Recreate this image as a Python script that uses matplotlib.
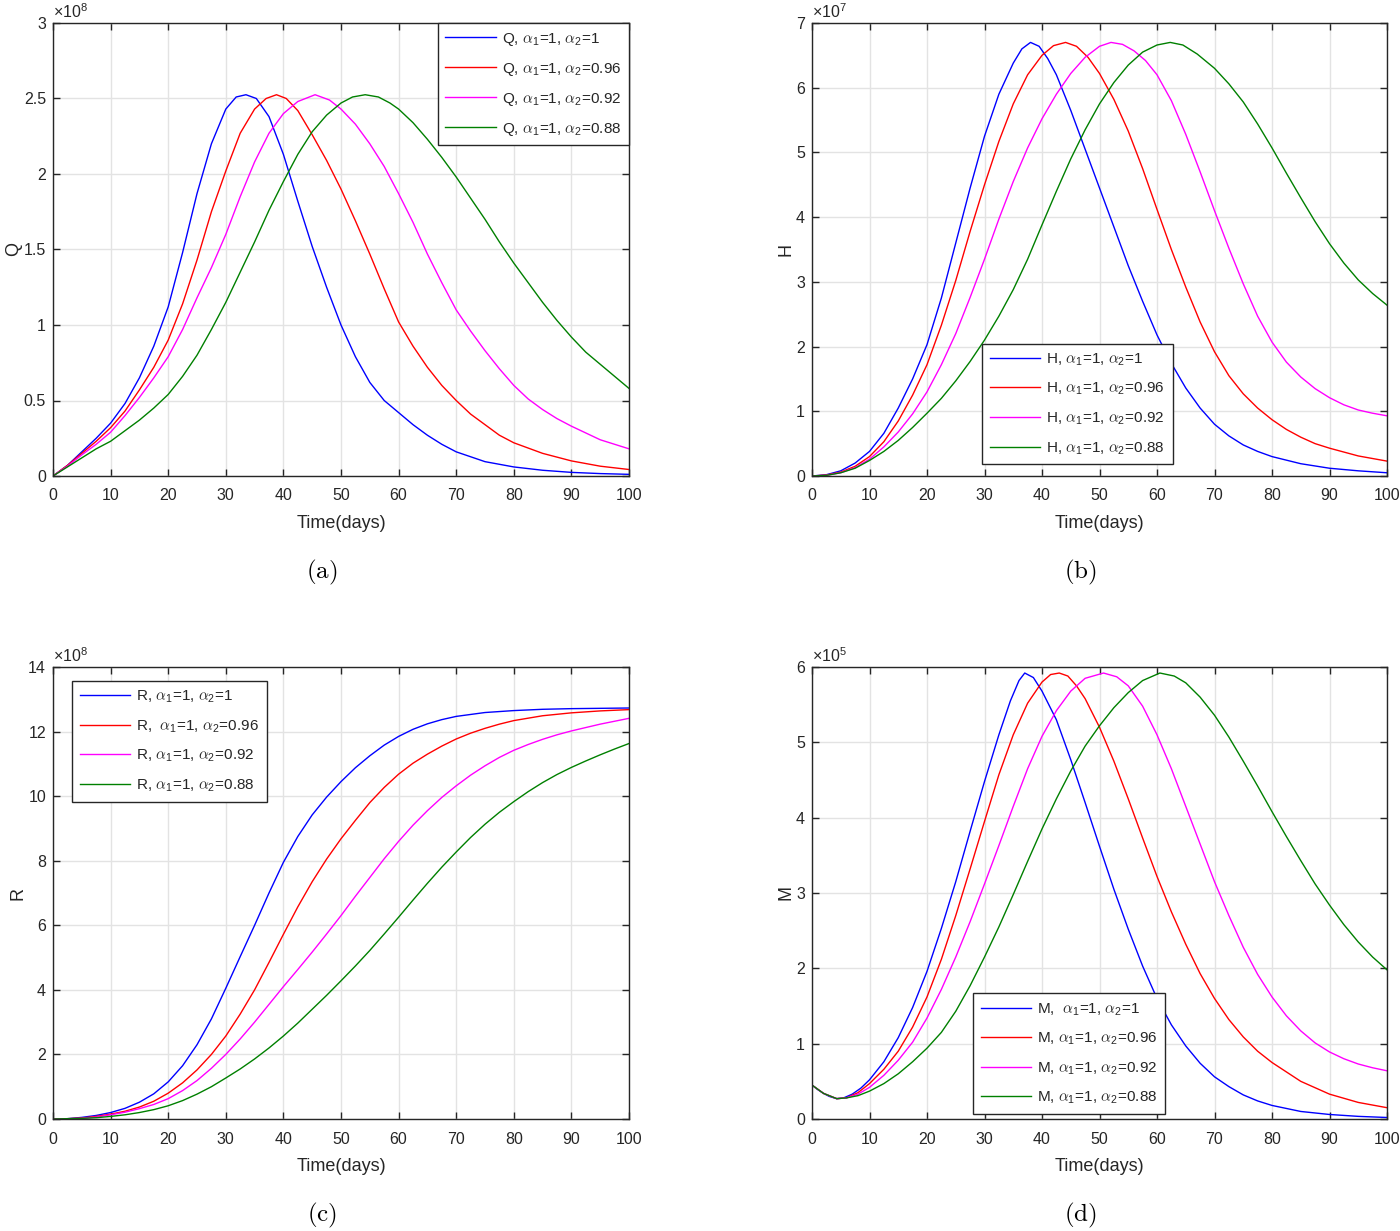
import numpy as np
import matplotlib
matplotlib.use('Agg')
import matplotlib.pyplot as plt
from matplotlib.ticker import FuncFormatter

plt.rcParams['font.family'] = ['Liberation Sans', 'DejaVu Sans']
plt.rcParams['mathtext.fontset'] = 'cm'

# ---------------- data: (day, value) ----------------
# (a) Q, x1e8
q_1 = [(0, 0), (2.5, 0.07), (5, 0.16), (7.5, 0.25), (10, 0.35), (12.5, 0.48), (15, 0.65), (17.5, 0.86),
       (20, 1.12), (22.5, 1.48), (25, 1.87), (27.5, 2.2), (30, 2.43), (31.8, 2.51), (33.5, 2.525),
       (35.3, 2.5), (37.5, 2.38), (40, 2.13), (42.5, 1.82), (45, 1.52), (47.5, 1.25), (50, 1.0),
       (52.5, 0.79), (55, 0.62), (57.5, 0.5), (60, 0.42), (62.5, 0.34), (65, 0.27), (67.5, 0.21),
       (70, 0.16), (75, 0.095), (80, 0.06), (85, 0.038), (90, 0.024), (95, 0.016), (100, 0.011)]
q_2 = [(0, 0), (2.5, 0.07), (5, 0.15), (7.5, 0.23), (10, 0.32), (12.5, 0.43), (15, 0.57), (17.5, 0.72),
       (20, 0.9), (22.5, 1.14), (25, 1.43), (27.5, 1.75), (30, 2.02), (32.5, 2.27), (35, 2.43),
       (37, 2.5), (38.8, 2.525), (40.5, 2.5), (42.5, 2.42), (45, 2.26), (47.5, 2.09), (50, 1.9),
       (52.5, 1.69), (55, 1.47), (57.5, 1.24), (60, 1.02), (62.5, 0.86), (65, 0.72), (67.5, 0.6),
       (70, 0.5), (72.5, 0.41), (75, 0.34), (77.5, 0.27), (80, 0.22), (85, 0.15), (90, 0.1),
       (95, 0.065), (100, 0.043)]
q_3 = [(0, 0), (2.5, 0.065), (5, 0.14), (7.5, 0.21), (10, 0.29), (12.5, 0.4), (15, 0.52), (17.5, 0.65),
       (20, 0.79), (22.5, 0.97), (25, 1.18), (27.5, 1.38), (30, 1.6), (32.5, 1.85), (35, 2.08),
       (37.5, 2.27), (40, 2.4), (42.5, 2.48), (45.5, 2.525), (48, 2.49), (50, 2.43), (52.5, 2.33),
       (55, 2.2), (57.5, 2.05), (60, 1.87), (62.5, 1.68), (65, 1.47), (67.5, 1.28), (70, 1.1),
       (72.5, 0.96), (75, 0.83), (77.5, 0.71), (80, 0.6), (82.5, 0.51), (85, 0.44), (87.5, 0.38),
       (90, 0.33), (95, 0.24), (100, 0.18)]
q_4 = [(0, 0), (2.5, 0.06), (5, 0.12), (7.5, 0.18), (10, 0.23), (12.5, 0.3), (15, 0.37), (17.5, 0.45),
       (20, 0.54), (22.5, 0.66), (25, 0.8), (27.5, 0.97), (30, 1.15), (32.5, 1.35), (35, 1.55),
       (37.5, 1.76), (40, 1.95), (42.5, 2.13), (45, 2.28), (47.5, 2.39), (50, 2.47), (52, 2.51),
       (54.2, 2.525), (56.5, 2.51), (58.5, 2.47), (60, 2.43), (62.5, 2.34), (65, 2.23), (67.5, 2.11),
       (70, 1.98), (72.5, 1.84), (75, 1.7), (77.5, 1.55), (80, 1.41), (82.5, 1.28), (85, 1.15),
       (87.5, 1.03), (90, 0.92), (92.5, 0.82), (95, 0.74), (97.5, 0.66), (100, 0.58)]

# (b) H, x1e7
h_1 = [(0, 0), (2.5, 0.02), (5, 0.08), (7.5, 0.2), (10, 0.38), (12.5, 0.66), (15, 1.05), (17.5, 1.5),
       (20, 2.03), (22.5, 2.75), (25, 3.6), (27.5, 4.45), (30, 5.25), (32.5, 5.9), (35, 6.38),
       (36.5, 6.6), (38, 6.7), (39.5, 6.64), (41, 6.45), (42.5, 6.2), (45, 5.65), (47.5, 5.05),
       (50, 4.45), (52.5, 3.85), (55, 3.25), (57.5, 2.7), (60, 2.18), (62.5, 1.74), (65, 1.36),
       (67.5, 1.05), (70, 0.8), (72.5, 0.62), (75, 0.48), (77.5, 0.38), (80, 0.3), (85, 0.19),
       (90, 0.12), (95, 0.08), (100, 0.05)]
h_2 = [(0, 0), (2.5, 0.015), (5, 0.06), (7.5, 0.15), (10, 0.3), (12.5, 0.53), (15, 0.85), (17.5, 1.25),
       (20, 1.72), (22.5, 2.33), (25, 3.02), (27.5, 3.78), (30, 4.5), (32.5, 5.17), (35, 5.75),
       (37.5, 6.2), (40, 6.5), (42, 6.65), (44.1, 6.7), (46, 6.64), (48, 6.47), (50, 6.22),
       (52.5, 5.82), (55, 5.33), (57.5, 4.75), (60, 4.12), (62.5, 3.5), (65, 2.92), (67.5, 2.38),
       (70, 1.92), (72.5, 1.55), (75, 1.27), (77.5, 1.05), (80, 0.87), (82.5, 0.72), (85, 0.6),
       (87.5, 0.5), (90, 0.43), (95, 0.31), (100, 0.23)]
h_3 = [(0, 0), (2.5, 0.01), (5, 0.05), (7.5, 0.13), (10, 0.26), (12.5, 0.45), (15, 0.68), (17.5, 0.96),
       (20, 1.3), (22.5, 1.72), (25, 2.2), (27.5, 2.76), (30, 3.35), (32.5, 3.97), (35, 4.55),
       (37.5, 5.07), (40, 5.52), (42.5, 5.9), (45, 6.22), (47.5, 6.47), (50, 6.64), (52, 6.7),
       (54, 6.67), (56, 6.57), (58, 6.42), (60, 6.2), (62.5, 5.8), (65, 5.28), (67.5, 4.7),
       (70, 4.1), (72.5, 3.52), (75, 2.97), (77.5, 2.47), (80, 2.07), (82.5, 1.76), (85, 1.53),
       (87.5, 1.35), (90, 1.21), (92.5, 1.1), (95, 1.02), (97.5, 0.97), (100, 0.93)]
h_4 = [(0, 0), (2.5, 0.01), (5, 0.05), (7.5, 0.12), (10, 0.24), (12.5, 0.38), (15, 0.55), (17.5, 0.75),
       (20, 0.97), (22.5, 1.2), (25, 1.47), (27.5, 1.77), (30, 2.1), (32.5, 2.47), (35, 2.88),
       (37.5, 3.35), (40, 3.88), (42.5, 4.4), (45, 4.9), (47.5, 5.35), (50, 5.75), (52.5, 6.08),
       (55, 6.35), (57.5, 6.55), (60, 6.66), (62.3, 6.7), (64.5, 6.66), (67, 6.52), (70, 6.3),
       (72.5, 6.06), (75, 5.78), (77.5, 5.44), (80, 5.07), (82.5, 4.68), (85, 4.3), (87.5, 3.93),
       (90, 3.59), (92.5, 3.29), (95, 3.03), (97.5, 2.82), (100, 2.64)]

# (c) R, x1e8
r_1 = [(0, 0), (2.5, 0.01), (5, 0.05), (7.5, 0.11), (10, 0.2), (12.5, 0.33), (15, 0.52), (17.5, 0.78),
       (20, 1.15), (22.5, 1.65), (25, 2.3), (27.5, 3.1), (30, 4.05), (32.5, 5.03), (35, 6.0),
       (37.5, 7.0), (40, 7.95), (42.5, 8.75), (45, 9.42), (47.5, 9.97), (50, 10.45), (52.5, 10.88),
       (55, 11.25), (57.5, 11.58), (60, 11.85), (62.5, 12.07), (65, 12.24), (67.5, 12.37),
       (70, 12.47), (75, 12.59), (80, 12.65), (85, 12.69), (90, 12.71), (95, 12.72), (100, 12.73)]
r_2 = [(0, 0), (2.5, 0.01), (5, 0.03), (7.5, 0.08), (10, 0.15), (12.5, 0.24), (15, 0.37), (17.5, 0.55),
       (20, 0.8), (22.5, 1.12), (25, 1.52), (27.5, 2.0), (30, 2.57), (32.5, 3.25), (35, 4.0),
       (37.5, 4.85), (40, 5.72), (42.5, 6.57), (45, 7.35), (47.5, 8.05), (50, 8.68), (52.5, 9.25),
       (55, 9.8), (57.5, 10.27), (60, 10.68), (62.5, 11.02), (65, 11.3), (67.5, 11.55), (70, 11.77),
       (72.5, 11.95), (75, 12.1), (77.5, 12.23), (80, 12.34), (85, 12.49), (90, 12.58), (95, 12.64),
       (100, 12.68)]
r_3 = [(0, 0), (2.5, 0.005), (5, 0.02), (7.5, 0.06), (10, 0.13), (12.5, 0.21), (15, 0.32), (17.5, 0.45),
       (20, 0.63), (22.5, 0.88), (25, 1.19), (27.5, 1.57), (30, 2.0), (32.5, 2.48), (35, 3.0),
       (37.5, 3.55), (40, 4.1), (42.5, 4.63), (45, 5.17), (47.5, 5.73), (50, 6.3), (52.5, 6.9),
       (55, 7.48), (57.5, 8.06), (60, 8.6), (62.5, 9.1), (65, 9.55), (67.5, 9.96), (70, 10.32),
       (72.5, 10.65), (75, 10.94), (77.5, 11.2), (80, 11.42), (82.5, 11.6), (85, 11.76), (87.5, 11.9),
       (90, 12.02), (95, 12.23), (100, 12.41)]
r_4 = [(0, 0), (5, 0.02), (7.5, 0.04), (10, 0.08), (12.5, 0.13), (15, 0.2), (17.5, 0.29), (20, 0.41),
       (22.5, 0.57), (25, 0.77), (27.5, 1.0), (30, 1.27), (32.5, 1.55), (35, 1.86), (37.5, 2.2),
       (40, 2.57), (42.5, 2.97), (45, 3.4), (47.5, 3.83), (50, 4.28), (52.5, 4.74), (55, 5.22),
       (57.5, 5.73), (60, 6.25), (62.5, 6.78), (65, 7.3), (67.5, 7.8), (70, 8.27), (72.5, 8.72),
       (75, 9.13), (77.5, 9.5), (80, 9.83), (82.5, 10.14), (85, 10.42), (87.5, 10.67), (90, 10.89),
       (92.5, 11.09), (95, 11.28), (97.5, 11.46), (100, 11.63)]

# (d) M, x1e5
m_1 = [(0, 0.45), (1, 0.39), (2, 0.34), (3, 0.3), (4.3, 0.27), (5.5, 0.28), (7, 0.33), (8.5, 0.41),
       (10, 0.52), (12.5, 0.76), (15, 1.08), (17.5, 1.48), (20, 1.96), (22.5, 2.53), (25, 3.15),
       (27.5, 3.82), (30, 4.48), (32.5, 5.1), (34.5, 5.55), (36, 5.82), (37, 5.92), (38.5, 5.86),
       (40, 5.68), (42.5, 5.3), (45, 4.77), (47.5, 4.2), (50, 3.62), (52.5, 3.05), (55, 2.52),
       (57.5, 2.03), (60, 1.6), (62.5, 1.25), (65, 0.97), (67.5, 0.74), (70, 0.56), (72.5, 0.43),
       (75, 0.32), (77.5, 0.24), (80, 0.18), (85, 0.1), (90, 0.06), (95, 0.035), (100, 0.02)]
m_2 = [(0, 0.45), (2, 0.34), (4.3, 0.27), (6, 0.28), (8, 0.35), (10, 0.47), (12.5, 0.66), (15, 0.9),
       (17.5, 1.22), (20, 1.62), (22.5, 2.12), (25, 2.7), (27.5, 3.32), (30, 3.95), (32.5, 4.57),
       (35, 5.1), (37.5, 5.52), (40, 5.8), (41.5, 5.9), (43, 5.92), (44.5, 5.88), (46, 5.75),
       (47.5, 5.58), (50, 5.2), (52.5, 4.75), (55, 4.25), (57.5, 3.73), (60, 3.22), (62.5, 2.75),
       (65, 2.32), (67.5, 1.93), (70, 1.6), (72.5, 1.32), (75, 1.09), (77.5, 0.9), (80, 0.75),
       (85, 0.5), (90, 0.33), (95, 0.22), (100, 0.15)]
m_3 = [(0, 0.45), (2, 0.34), (4.3, 0.27), (6, 0.28), (8, 0.33), (10, 0.42), (12.5, 0.58), (15, 0.78),
       (17.5, 1.02), (20, 1.34), (22.5, 1.72), (25, 2.15), (27.5, 2.62), (30, 3.12), (32.5, 3.63),
       (35, 4.15), (37.5, 4.65), (40, 5.08), (42.5, 5.42), (45, 5.68), (47.5, 5.85), (50.7, 5.92),
       (53, 5.87), (55, 5.75), (57.5, 5.48), (60, 5.1), (62.5, 4.65), (65, 4.15), (67.5, 3.65),
       (70, 3.15), (72.5, 2.7), (75, 2.28), (77.5, 1.92), (80, 1.62), (82.5, 1.37), (85, 1.17),
       (87.5, 1.01), (90, 0.89), (92.5, 0.8), (95, 0.73), (97.5, 0.68), (100, 0.64)]
m_4 = [(0, 0.45), (2, 0.34), (4.3, 0.27), (6, 0.28), (8, 0.31), (10, 0.37), (12.5, 0.47), (15, 0.6),
       (17.5, 0.76), (20, 0.94), (22.5, 1.15), (25, 1.43), (27.5, 1.77), (30, 2.15), (32.5, 2.55),
       (35, 2.98), (37.5, 3.42), (40, 3.85), (42.5, 4.25), (45, 4.62), (47.5, 4.95), (50, 5.22),
       (52.5, 5.46), (55, 5.66), (57.5, 5.82), (60.5, 5.92), (63, 5.88), (65, 5.79), (67.5, 5.6),
       (70, 5.36), (72.5, 5.07), (75, 4.75), (77.5, 4.42), (80, 4.08), (82.5, 3.75), (85, 3.43),
       (87.5, 3.12), (90, 2.84), (92.5, 2.58), (95, 2.35), (97.5, 2.15), (100, 1.98)]

alpha2 = ['1', '0.96', '0.92', '0.88']
colors = ['#0000ff', '#ff0000', '#ff00ff', '#008000']

panels = [
    dict(name='Q', exp='8', ymax=3, ystep=0.5, series=[q_1, q_2, q_3, q_4],
         pref=['Q, ', 'Q, ', 'Q, ', 'Q, '],
         rect=[53, 23, 629, 476], leg=('upper right', (1.0, 1.0)), tag='(a)'),
    dict(name='H', exp='7', ymax=7, ystep=1, series=[h_1, h_2, h_3, h_4],
         pref=['H, ', 'H, ', 'H, ', 'H, '],
         rect=[812, 23, 1387, 476], leg=('lower left', (0.296, 0.026)), tag='(b)'),
    dict(name='R', exp='8', ymax=14, ystep=2, series=[r_1, r_2, r_3, r_4],
         pref=['R, ', 'R,  ', 'R, ', 'R, '],
         rect=[53, 667, 629, 1119], leg=('upper left', (0.033, 0.969)), tag='(c)'),
    dict(name='M', exp='5', ymax=6, ystep=1, series=[m_1, m_2, m_3, m_4],
         pref=['M,  ', 'M, ', 'M, ', 'M, '],
         rect=[812, 667, 1387, 1119], leg=('lower left', (0.28, 0.011)), tag='(d)'),
]

W, H = 1400, 1231
fig = plt.figure(figsize=(W / 100, H / 100), dpi=100)

for p in panels:
    x0, y0, x1, y1 = p['rect']
    ax = fig.add_axes([x0 / W, 1 - y1 / H, (x1 - x0) / W, (y1 - y0) / H])
    for pts, c, a2, pre in zip(p['series'], colors, alpha2, p['pref']):
        t, v = zip(*pts)
        lab = pre + r'$\alpha_{\mathregular{1}}$=1, $\alpha_{\mathregular{2}}$=' + a2
        ax.plot(t, v, color=c, lw=1.0, label=lab)
    ax.set_xlim(0, 100)
    ax.set_ylim(0, p['ymax'])
    ax.set_xticks(np.arange(0, 101, 10))
    ax.set_yticks(np.arange(0, p['ymax'] + 1e-9, p['ystep']))
    ax.yaxis.set_major_formatter(FuncFormatter(lambda v, pos: '%g' % v))
    ax.grid(True, color='#e3e3e3', lw=1.0)
    ax.set_axisbelow(True)
    ax.tick_params(direction='in', length=5, width=1, top=True, right=True,
                   labelsize=11.5, colors='#262626')
    ax.tick_params(axis='x', pad=9)
    ax.tick_params(axis='y', pad=5)
    for s in ax.spines.values():
        s.set_color('#262626')
        s.set_linewidth(1.0)
    ax.set_xlabel('Time(days)', fontsize=13, color='#262626', labelpad=8)
    ax.set_ylabel(p['name'], fontsize=13, color='#262626', labelpad=1)
    ax.text(0.0, 1.004, r'×10$^{\mathregular{' + p['exp'] + '}}$',
            transform=ax.transAxes, ha='left', va='bottom', fontsize=11.5, color='#262626')
    loc, anchor = p['leg']
    lg = ax.legend(loc=loc, bbox_to_anchor=anchor, borderaxespad=0, fontsize=11,
                   handlelength=3.3, labelspacing=0.85, fancybox=False, framealpha=1,
                   edgecolor='#262626', borderpad=0.5, handletextpad=0.4)
    lg.get_frame().set_linewidth(1.0)
    for txt in lg.get_texts():
        txt.set_color('#262626')
    cx = (x0 - 19 + (x1 - x0) / 2) / W
    fig.text(cx, 1 - (y1 + 96) / H, r'$\mathrm{' + p['tag'] + '}$', ha='center', va='center', fontsize=18)

fig.savefig('out.png', dpi=100)
